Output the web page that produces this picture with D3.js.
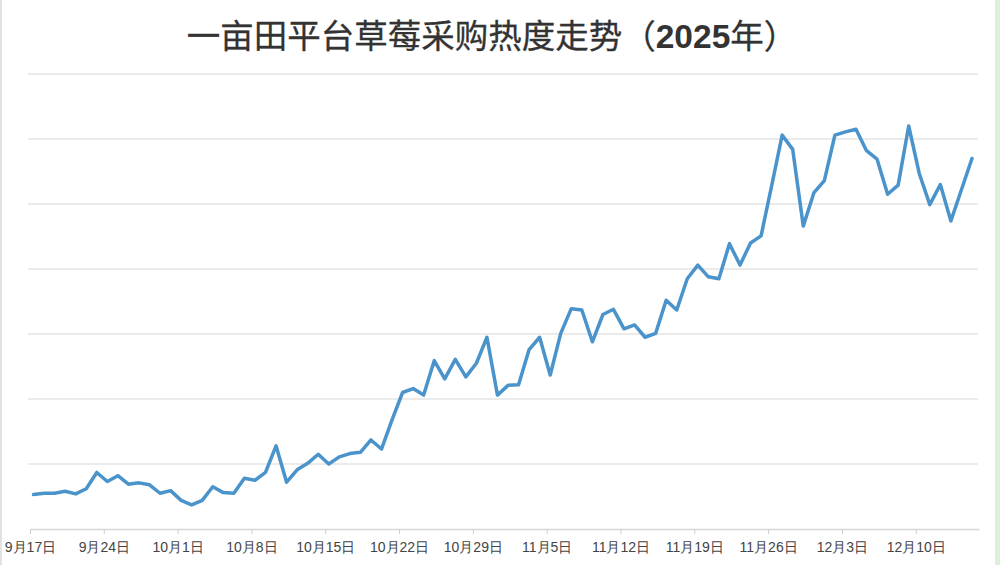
<!DOCTYPE html>
<html>
<head>
<meta charset="utf-8">
<script src="https://cdn.jsdelivr.net/npm/d3@7"></script>
<style>
  body { margin: 0; background: #fff; }
  svg { display: block; font-family: "Liberation Sans", "Noto Sans CJK SC", sans-serif; }
</style>
</head>
<body>
<svg id="mainSVG" width="1000" height="565"></svg>
<script>
// daily heat index, starting 2025-09-17
const startDate = "2025-09-17"
const heat = [53, 55, 55, 58, 54, 62, 87, 73, 82, 69,
    71, 68, 55, 59, 44, 37, 44, 65, 56, 55,
    78, 75, 87, 128, 72, 91, 101, 115, 100, 111,
    116, 118, 137, 123, 168, 210, 216, 206, 259, 231,
    261, 234, 255, 295, 206, 221, 222, 276, 295, 237,
    301, 339, 337, 288, 330, 338, 308, 314, 295, 301,
    352, 337, 385, 406, 388, 385, 439, 406, 440, 451,
    528, 606, 584, 466, 517, 536, 606, 611, 615, 582,
    569, 515, 529, 620, 547, 499, 530, 474, 522, 570]
const tickDates = ["2025-09-17", "2025-09-24", "2025-10-01", "2025-10-08", "2025-10-15",
    "2025-10-22", "2025-10-29", "2025-11-05", "2025-11-12", "2025-11-19",
    "2025-11-26", "2025-12-03", "2025-12-10"]
const gridValues = [100, 200, 300, 400, 500, 600, 700]

const parse = d3.timeParse("%Y-%m-%d")
const day0 = parse(startDate)
// samples are stamped at 08:00 each day
const points = heat.map((v, i) => ({date: d3.timeHour.offset(d3.timeDay.offset(day0, i), 8), value: v}))

const svg = d3.select("#mainSVG")
const x = d3.scaleTime().domain([day0, parse("2025-12-16")]).range([30, 979])
const y = d3.scaleLinear().domain([0, 700]).range([529, 74])

// page edges
svg.append("rect").attr("x", 0).attr("y", 0).attr("width", 2).attr("height", 565).attr("fill", "#e2e2e2")
svg.append("rect").attr("x", 995).attr("y", 0).attr("width", 5).attr("height", 565).attr("fill", "#dcefd9")

svg.append("text")
    .attr("x", 492)
    .attr("y", 48)
    .attr("text-anchor", "middle")
    .attr("fill", "#333")
    .attr("stroke", "#333")
    .attr("stroke-width", 0.3)
    .style("font-size", "33.5px")
    .style("font-family", "'Noto Sans CJK SC', sans-serif")
    .style("font-weight", 400)
    .call(t => {
        t.append("tspan").text("一亩田平台草莓采购热度走势（")
        t.append("tspan").style("font-weight", 700).attr("stroke-width", 0).style("font-family", "'Liberation Sans', sans-serif").text("2025")
        t.append("tspan").text("年）")
    })

svg.append("g")
    .selectAll("line")
    .data(gridValues)
    .join("line")
    .attr("x1", 28).attr("x2", 978)
    .attr("y1", d => y(d)).attr("y2", d => y(d))
    .attr("stroke", "#e4e4e4")
    .attr("stroke-width", 1.5)

const xAxis = svg.append("g")
    .attr("transform", `translate(0,${y(0)})`)
    .call(d3.axisBottom(x)
        .tickValues(tickDates.map(parse))
        .tickFormat(d3.timeFormat("%-m月%-d日"))
        .tickSize(5)
        .tickSizeOuter(0)
        .tickPadding(8))
xAxis.select(".domain").attr("stroke", "#d8d8d8").attr("stroke-width", 1.5)
xAxis.selectAll(".tick line").attr("stroke", "#cfcfcf")
xAxis.selectAll(".tick text").attr("fill", "#444").style("font-size", "14px")

const line = d3.line().x(d => x(d.date)).y(d => y(d.value))
svg.append("path")
    .datum(points)
    .attr("d", line)
    .attr("fill", "none")
    .attr("stroke", "#4a93cb")
    .attr("stroke-width", 3.5)
    .attr("stroke-linejoin", "round")
    .attr("stroke-linecap", "round")
</script>
</body>
</html>
